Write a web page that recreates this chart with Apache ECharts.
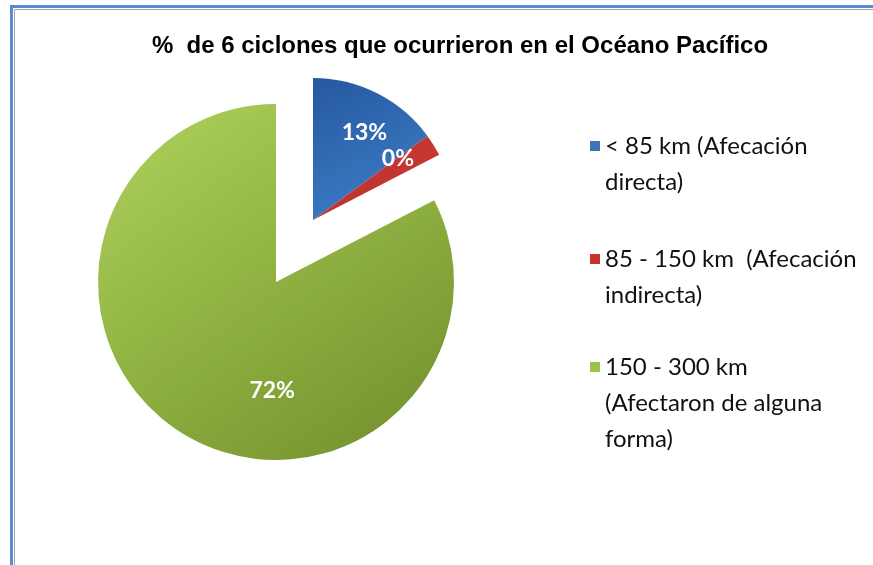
<!DOCTYPE html>
<html>
<head>
<meta charset="utf-8">
<script src="https://cdn.jsdelivr.net/npm/echarts@6/dist/echarts.min.js"></script>
<style>html,body{margin:0;padding:0;background:#fff;}#c{width:873px;height:565px;}</style>
</head>
<body>
<div id="c"></div>
<script>
const titleText = '%  de 6 ciclones que ocurrieron en el Océano Pacífico';
const categories = ['< 85 km (Afecación\ndirecta)', '85 - 150 km  (Afecación\nindirecta)', '150 - 300 km\n(Afectaron de alguna\nforma)'];
const values = [13, 0, 72];
const colors = [
  {type:'linear',x:0,y:0,x2:0.6,y2:1,colorStops:[{offset:0,color:'#2558a0'},{offset:1,color:'#3d7dc6'}]},
  {type:'linear',x:0,y:0,x2:1,y2:1,colorStops:[{offset:0,color:'#b8302c'},{offset:1,color:'#cc3a33'}]},
  {type:'linear',x:0,y:0,x2:0.7,y2:1,colorStops:[{offset:0,color:'#b0d25e'},{offset:0.5,color:'#93b544'},{offset:1,color:'#789630'}]}
];
const iconColors = ['#3a74bd', '#c8332f', '#9cc24c'];
const legendFirstLine = [146, 259, 367];

const chart = echarts.init(document.getElementById('c'));

function pieData(visible) {
  return values.map((v, i) => ({
    name: categories[i],
    value: v,
    itemStyle: visible.indexOf(i) >= 0 ? {color: colors[i]} : {color: 'rgba(0,0,0,0)'},
    label: {show: visible.indexOf(i) >= 0}
  }));
}

const LH = 36;
const legends = categories.map((c, i) => {
  const n = c.split('\n').length;
  return {
    orient: 'vertical',
    left: 590,
    top: legendFirstLine[i] - LH / 2 - (n - 1) * LH,
    padding: 0,
    itemWidth: 10,
    itemHeight: 10,
    itemGap: 0,
    selectedMode: false,
    icon: 'rect',
    data: [{name: c, itemStyle: {color: iconColors[i]}}],
    formatter: function (name) { return ' \n'.repeat(n - 1) + name; },
    textStyle: {fontFamily: 'Lato', fontSize: 24, color: '#111', lineHeight: LH}
  };
});

const labelStyle = {
  show: true, position: 'inside', formatter: '{c}%',
  color: '#fff', fontFamily: 'Lato', fontWeight: 'bold', fontSize: 23
};

chart.setOption({
  animation: false,
  title: {
    text: titleText, left: 455, top: 29, textAlign: 'center',
    textStyle: {fontFamily: 'Liberation Sans', fontWeight: 'bold', fontSize: 24, color: '#000'}
  },
  legend: legends,
  graphic: [
    {type: 'rect', shape: {x: 11.5, y: 6.5, width: 900, height: 600}, style: {fill: 'none', stroke: '#5a8ad0', lineWidth: 3}, silent: true},
    {type: 'rect', shape: {x: 14.5, y: 9.5, width: 900, height: 600}, style: {fill: 'none', stroke: '#a3a3a3', lineWidth: 1}, silent: true}
  ],
  series: [
    {
      type: 'pie', center: [276, 282], radius: 178, startAngle: 90, clockwise: true, minAngle: 9,
      label: labelStyle, labelLine: {show: false},
      labelLayout: function (p) { return {dx: 44, dy: 30}; },
      emphasis: {disabled: true},
      data: pieData([2])
    },
    {
      type: 'pie', center: [313, 220], radius: 142, startAngle: 90, clockwise: true, minAngle: 9,
      label: labelStyle, labelLine: {show: false},
      labelLayout: function (p) { return p.dataIndex === 0 ? {dx: 18, dy: -21} : {dx: 22, dy: -22}; },
      emphasis: {disabled: true},
      data: pieData([0, 1])
    }
  ]
});
</script>
</body>
</html>
